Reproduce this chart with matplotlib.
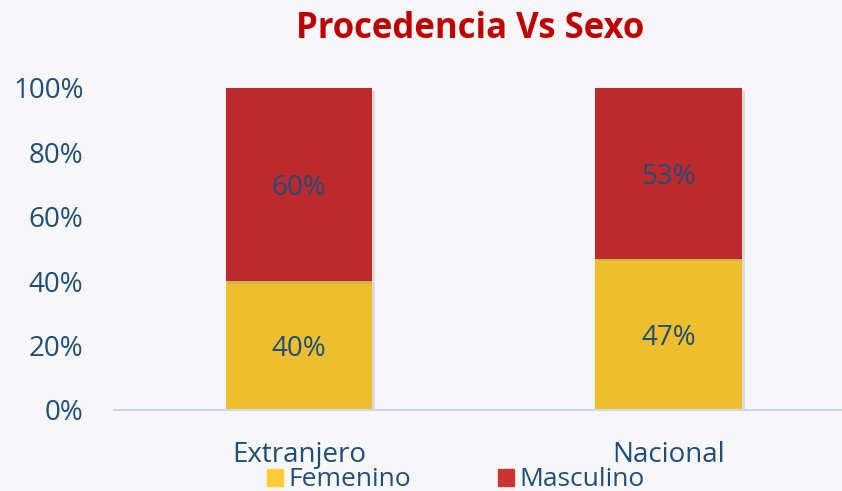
import matplotlib.pyplot as plt
import matplotlib.patheffects as pe
from matplotlib.patches import Patch
from matplotlib.ticker import PercentFormatter

# Datos
categorias = ["Extranjero", "Nacional"]
femenino = [40, 47]
masculino = [60, 53]

col_fem = "#EDBE2E"
col_mas = "#BE2A2C"
col_txt = "#1F4E79"
fondo = "#F7F7FA"

plt.rcParams['font.family'] = ['Open Sans', 'DejaVu Sans']

fig = plt.figure(figsize=(8.42, 4.91), dpi=100, facecolor=fondo)
ax = fig.add_axes([114 / 842, 1 - 410 / 491, 728 / 842, 322 / 491])
ax.set_facecolor(fondo)

x = list(range(len(categorias)))
sombra = [pe.SimplePatchShadow(offset=(2, -2), shadow_rgbFace="#999999", alpha=0.3), pe.Normal()]
b1 = ax.bar(x, femenino, width=0.397, color=col_fem, path_effects=sombra, zorder=2)
b2 = ax.bar(x, masculino, width=0.397, bottom=femenino, color=col_mas, path_effects=sombra, zorder=2)

for i in x:
    ax.text(i, femenino[i] / 2 - 1.2, f"{femenino[i]}%", ha="center", va="center",
            fontsize=20, color=col_txt, zorder=3)
    ax.text(i, femenino[i] + masculino[i] / 2 - 1.2, f"{masculino[i]}%", ha="center", va="center",
            fontsize=20, color=col_txt, zorder=3)

ax.set_xlim(-0.5, 1.468)
ax.set_ylim(0, 100)
ax.set_yticks(range(0, 101, 20))
ax.yaxis.set_major_formatter(PercentFormatter(decimals=0))
ax.set_xticks(x)
ax.set_xticklabels(categorias)
ax.tick_params(axis="y", length=0, pad=22, labelsize=20, labelcolor=col_txt)
ax.tick_params(axis="x", length=0, pad=22, labelsize=20, labelcolor=col_txt)

for s in ["left", "right", "top"]:
    ax.spines[s].set_visible(False)
ax.spines["bottom"].set_color("#C9DAEE")
ax.spines["bottom"].set_linewidth(1.5)

fig.text(470 / 842, 1 - 29 / 491, "Procedencia Vs Sexo", ha="center", va="center",
         fontsize=25, fontweight="bold", color="#C00000")

handles = [Patch(color="#FFCC33", label="Femenino"), Patch(color="#CC3333", label="Masculino")]
leg = fig.legend(handles=handles, loc="center", bbox_to_anchor=(456 / 842, 1 - 480 / 491),
                 ncol=2, frameon=False, fontsize=19, handlelength=0.6, handleheight=0.6,
                 handletextpad=0.2, columnspacing=3.3, borderpad=0, borderaxespad=0)
for t in leg.get_texts():
    t.set_color(col_txt)

fig.savefig("out.png", dpi=100, facecolor=fondo)
